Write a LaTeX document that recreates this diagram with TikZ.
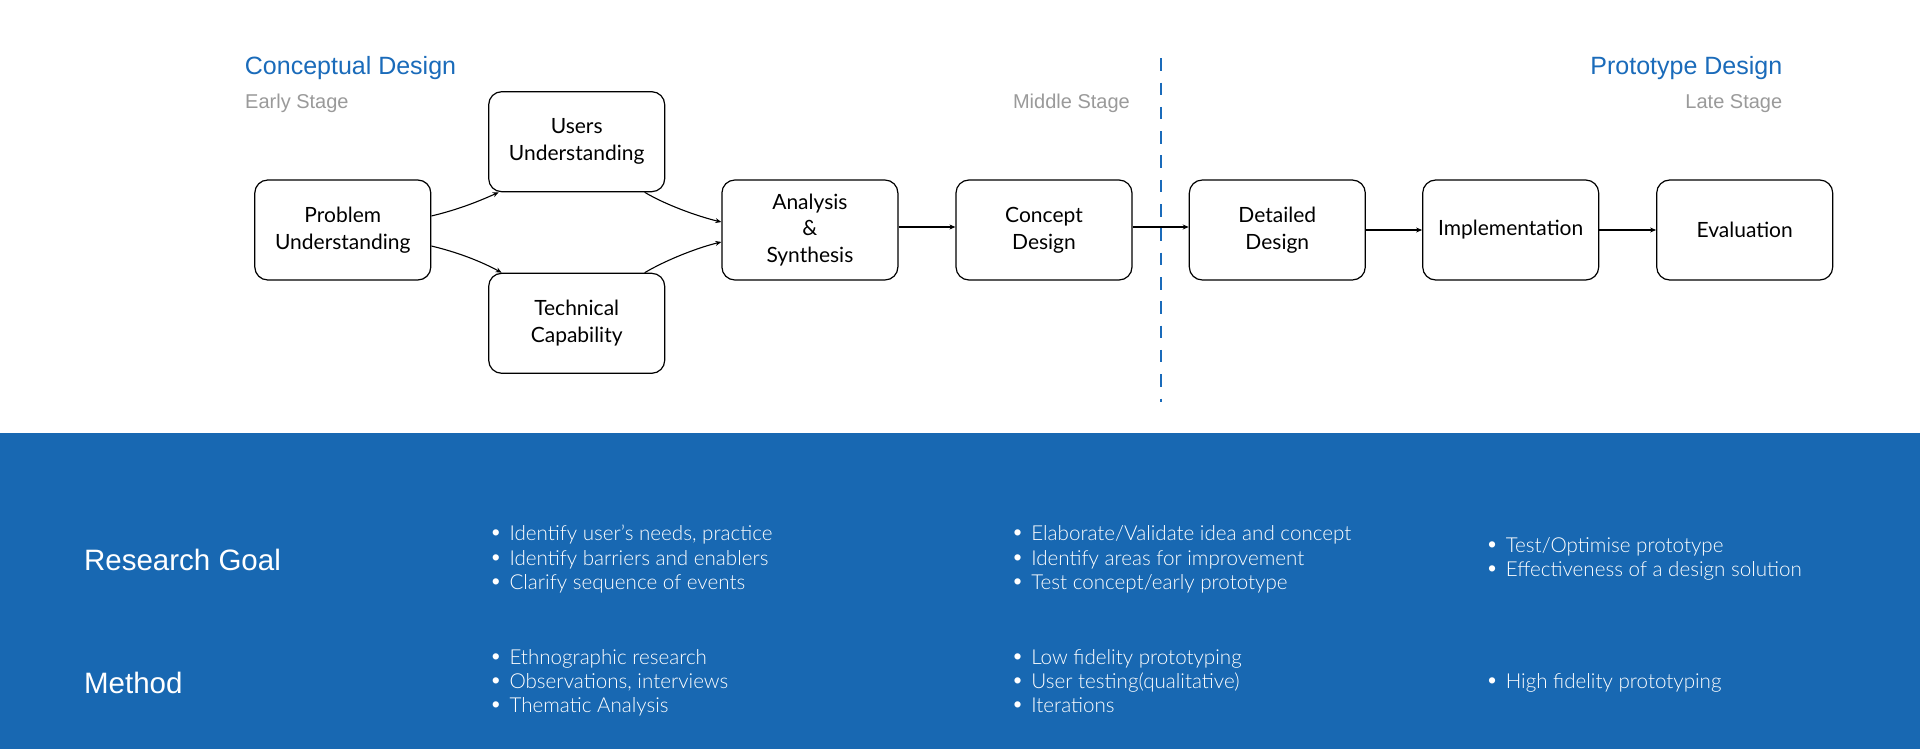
\documentclass[tikz,border=0pt]{standalone}
\usepackage{fontspec}
\setmainfont{Lato}
\newfontfamily\helv{Liberation Sans}
\newfontfamily\lightfont{Lato Light}
\usetikzlibrary{arrows.meta}
\definecolor{band}{HTML}{1868B2}
\definecolor{titleblue}{HTML}{1A6BBA}
\definecolor{stagegray}{HTML}{9A9A9A}
\newcommand{\bu}{\makebox[17.6pt][l]{{\helv\fontsize{23}{24}\selectfont •}}}
\begin{document}
\begin{tikzpicture}[x=1pt,y=-1pt,
  box/.style={draw, line width=1.2pt, rounded corners=13pt, minimum width=176pt,
    minimum height=100pt, align=center, inner sep=0,
    font=\fontsize{21}{26.7}\selectfont},
  arr/.style={line width=1.1pt, -{Stealth[length=6pt,width=5pt]}},
  title/.style={anchor=base west, inner sep=0, text=titleblue, font=\helv\fontsize{25}{28}\selectfont},
  stage/.style={anchor=base west, inner sep=0, text=stagegray, font=\helv\fontsize{20}{24}\selectfont},
  rowhead/.style={anchor=base west, inner sep=0, text=white, font=\helv\fontsize{29.5}{34}\selectfont},
  bul/.style={anchor=base west, inner sep=0, text=white, font=\lightfont\fontsize{20.6}{24}\selectfont},
  divider/.style={draw=titleblue, line width=2pt, dash pattern=on 12.5pt off 11.8pt}
]
\useasboundingbox (0,0) rectangle (1920,749);
\fill[white] (0,0) rectangle (1920,749);
\fill[band] (0,433) rectangle (1920,749);

% headings
\node[title] (cd) at (244.7,75) {Conceptual Design};
\node[stage] (es) at (245,108.3) {Early Stage};
\node[title, anchor=base east] (pd) at (1782.4,75) {Prototype Design};
\node[stage, anchor=base east] (ls) at (1782.4,108.3) {Late Stage};
\node[stage, anchor=base east] (ms) at (1130,108.3) {Middle Stage};

% divider
\coordinate (dtop) at (1160.7,58.3);
\coordinate (dbot) at (1160.7,401.7);
\draw[divider] (dtop) -- (dbot);

% boxes
\node[box] (pu) at (342.8,230) {Problem\\Understanding};
\node[box] (us) at (576.7,141.7) {Users\\Understanding};
\node[box] (tc) at (576.7,323.3) {Technical\\Capability};
\node[box] (an) at (809.9,230) {Analysis\\\&\\Synthesis};
\node[box] (co) at (1044,230) {Concept\\Design};
\node[box] (dd) at (1277.3,230) {Detailed\\Design};
\node[box] (im) at (1510.7,230) {Implementation};
\node[box] (ev) at (1744.7,230) {Evaluation};

% connectors
\draw[arr] ([yshift=14pt]pu.east) .. controls +(25,-6) and +(-22,10) .. ([xshift=-78pt]us.south);
\draw[arr] ([yshift=-16pt]pu.east) .. controls +(25,6) and +(-22,-12) .. ([xshift=-75pt]tc.north);
\draw[arr] ([xshift=68pt]us.south) .. controls +(20,12) and +(-25,-6) .. ([yshift=8pt]an.west);
\draw[arr] ([xshift=68pt]tc.north) .. controls +(20,-12) and +(-25,6) .. ([yshift=-12pt]an.west);
\draw[arr] ([yshift=3pt]an.east) -- ([yshift=3pt]co.west);
\draw[arr] ([yshift=3pt]co.east) -- ([yshift=3pt]dd.west);
\draw[arr] (dd) -- (im);
\draw[arr] (im) -- (ev);

% bottom band
\node[rowhead] (rg) at (83.9,570) {Research Goal};
\node[rowhead] (me) at (83.9,693.3) {Method};

\node[bul] (g11) at (491.7,540.7) {\bu Identify user’s needs, practice};
\node[bul] (g12) at (491.7,565.0) {\bu Identify barriers and enablers};
\node[bul] (g13) at (491.7,589.3) {\bu Clarify sequence of events};
\node[bul] (g21) at (1013.5,540.7) {\bu Elaborate/Validate idea and concept};
\node[bul] (g22) at (1013.5,565.0) {\bu Identify areas for improvement};
\node[bul] (g23) at (1013.5,589.3) {\bu Test concept/early prototype};
\node[bul] (g31) at (1488,552.7) {\bu Test/Optimise prototype};
\node[bul] (g32) at (1488,576.7) {\bu Effectiveness of a design solution};

\node[bul] (m11) at (491.7,664) {\bu Ethnographic research};
\node[bul] (m12) at (491.7,688.3) {\bu Observations, interviews};
\node[bul] (m13) at (491.7,712.7) {\bu Thematic Analysis};
\node[bul] (m21) at (1013.5,664) {\bu Low fidelity prototyping};
\node[bul] (m22) at (1013.5,688.3) {\bu User testing(qualitative)};
\node[bul] (m23) at (1013.5,712.7) {\bu Iterations};
\node[bul] (m31) at (1488,688.3) {\bu High fidelity prototyping};
\end{tikzpicture}
\end{document}
